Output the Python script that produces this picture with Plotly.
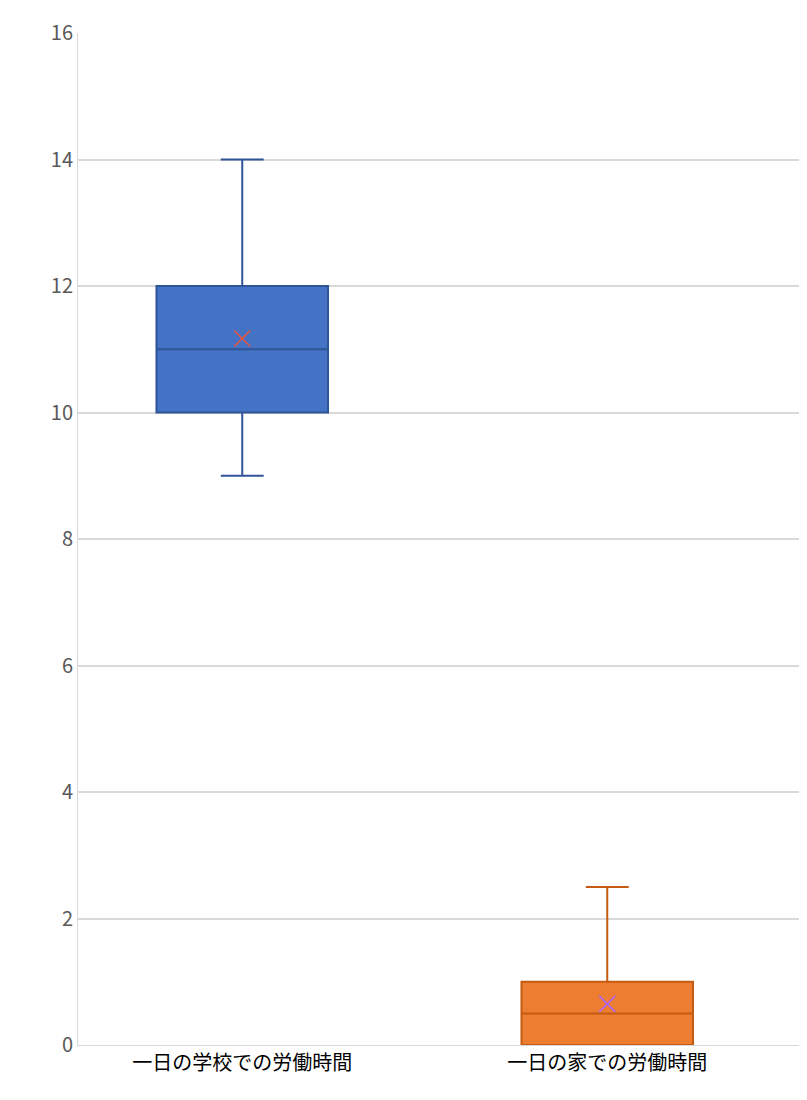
import plotly.graph_objects as go

categories = ["一日の学校での労働時間", "一日の家での労働時間"]
q1 = [10, 0]
median = [11, 0.5]
q3 = [12, 1]
lower = [9, 0]
upper = [14, 2.5]
mean = [11.17, 0.65]
fills = ["#4472C4", "#ED7D31"]
lines = ["#2F5597", "#C55A11"]

fig = go.Figure()
for i in range(2):
    fig.add_trace(go.Box(
        x=[categories[i]], q1=[q1[i]], median=[median[i]], q3=[q3[i]],
        lowerfence=[lower[i]], upperfence=[upper[i]],
        fillcolor=fills[i], line=dict(color=lines[i], width=2),
        whiskerwidth=0.25, width=0.47, boxpoints=False, showlegend=False))
    fig.add_trace(go.Scatter(
        x=[categories[i]], y=[mean[i]], mode="markers",
        marker=dict(symbol="x-thin-open", size=16, line=dict(color=lines[i], width=1.5)),
        showlegend=False))

fig.update_layout(
    width=807, height=1100, margin=dict(l=70, r=7, t=25, b=63),
    plot_bgcolor="white", paper_bgcolor="white",
    font=dict(family="Noto Sans CJK JP"),
    xaxis=dict(showline=True, linecolor="#D9D9D9", tickfont=dict(size=20, color="#000"),
               range=[-0.45, 1.55]),
    yaxis=dict(range=[0, 16], dtick=2, gridcolor="#D9D9D9", gridwidth=1.5,
               showline=True, linecolor="#D9D9D9", zeroline=False,
               tickfont=dict(size=20, color="#595959"), ticklen=0),
)
fig.write_html("out.html")
